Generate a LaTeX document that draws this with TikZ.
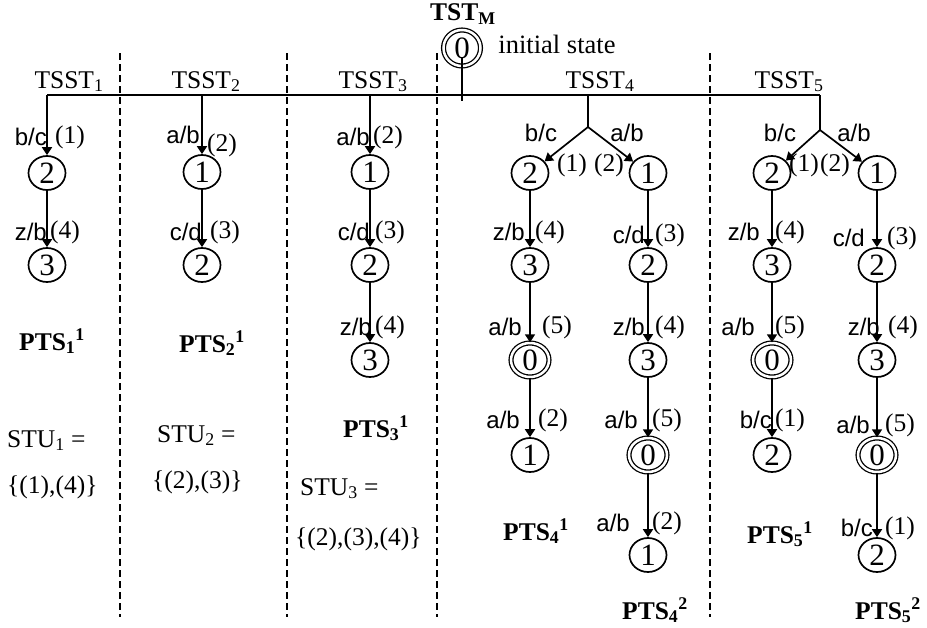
\documentclass[tikz,border=0pt]{standalone}
\usepackage{fontspec}
\setmainfont{Liberation Serif}
\newfontfamily\lsans{Liberation Sans}
\usetikzlibrary{arrows.meta,shapes.geometric}
\newcommand\elab[7]{%
  \node[lb,anchor=east] (#1l) at (#2,#3) {#4};
  \node[pn,anchor=west] (#1r) at (#5,#6) {#7};}
\begin{document}
\begin{tikzpicture}[x=1pt,y=-1pt,
  st/.style={ellipse,draw,line width=1.7pt,minimum width=37pt,minimum height=34pt,inner sep=0pt,font=\fontsize{31}{31}\selectfont},
  acc/.style={st,double,double distance=2.5pt,line width=1.3pt,minimum width=38pt,minimum height=34pt},
  tr/.style={-{Triangle[width=10pt,length=8pt]},line width=1.7pt},
  ln/.style={line width=2pt},
  dl/.style={line width=1.4pt,dash pattern=on 7pt off 4pt},
  lb/.style={font=\lsans\fontsize{24}{24}\selectfont,inner sep=0pt},
  pn/.style={font=\fontsize{25.5}{25.5}\selectfont,inner sep=0pt},
  tx/.style={font=\fontsize{25.5}{28}\selectfont,inner sep=0pt},
  bx/.style={font=\bfseries\fontsize{25.5}{28}\selectfont,inner sep=0pt}]
\useasboundingbox (0,0) rectangle (927,627);

% dashed separators
\foreach \i/\x in {1/120,2/287,3/437,4/710}{
  \coordinate (d\i a) at (\x,53);
  \coordinate (d\i b) at (\x,617);
  \draw[dl] (d\i a) -- (d\i b);
}

% top
\node[bx] (tstm) at (463,14) {TST\textsubscript{M}};
\node[acc,minimum width=37pt,minimum height=36pt] (init) at (462,48) {0};
\node[tx,font=\fontsize{26.5}{28}\selectfont] (inittxt) at (557,44) {initial state};
\coordinate (iL) at (462,101);
\draw[ln] ([yshift=-9pt]init.center) -- (iL);

\coordinate (h1) at (47,95);
\coordinate (h2) at (202,95);
\coordinate (h3) at (370,95);
\coordinate (h4) at (588,95);
\coordinate (h5) at (820,95);
\draw[ln] (h1) -- (h5);

\node[tx,anchor=base] (tsst1) at (69,88) {TSST\textsubscript{1}};
\node[tx,anchor=base] (tsst2) at (206,88) {TSST\textsubscript{2}};
\node[tx,anchor=base] (tsst3) at (373,88) {TSST\textsubscript{3}};
\node[tx,anchor=base] (tsst4) at (600,88) {TSST\textsubscript{4}};
\node[tx,anchor=base] (tsst5) at (789,88) {TSST\textsubscript{5}};

% TSST1
\node[st] (n11) at (47,173) {2};
\node[st] (n12) at (47,265) {3};
\draw[tr] (h1) -- (n11);
\draw[tr] (n11) -- (n12);
\elab{e11}{47}{137}{b/c}{55}{137}{(1)}
\elab{e12}{47}{232}{z/b}{50}{232}{(4)}
\node[bx,anchor=base] (pts1) at (52,350) {PTS\textsubscript{1}\textsuperscript{1}};
\node[tx,anchor=base west] (stu1) at (7,447) {STU\textsubscript{1} =};
\node[tx,anchor=base west] (stu1b) at (7,493) {\{(1),(4)\}};

% TSST2
\node[st] (n21) at (202,172) {1};
\node[st] (n22) at (202,265) {2};
\draw[tr] (h2) -- (n21);
\draw[tr] (n21) -- (n22);
\elab{e21}{200}{135}{a/b}{207}{145}{(2)}
\elab{e22}{202}{232}{c/d}{210}{232}{(3)}
\node[bx,anchor=base] (pts2) at (212,352) {PTS\textsubscript{2}\textsuperscript{1}};
\node[tx,anchor=base west] (stu2) at (157,442) {STU\textsubscript{2} =};
\node[tx,anchor=base west] (stu2b) at (152,488) {\{(2),(3)\}};

% TSST3
\node[st] (n31) at (370,172) {1};
\node[st] (n32) at (370,265) {2};
\node[st] (n33) at (370,360) {3};
\draw[tr] (h3) -- (n31);
\draw[tr] (n31) -- (n32);
\draw[tr] (n32) -- (n33);
\elab{e31}{370}{137}{a/b}{373}{137}{(2)}
\elab{e32}{370}{232}{c/d}{375}{232}{(3)}
\elab{e33}{372}{327}{z/b}{375}{327}{(4)}
\node[bx,anchor=base] (pts3) at (376,437) {PTS\textsubscript{3}\textsuperscript{1}};
\node[tx,anchor=base west] (stu3) at (300,495) {STU\textsubscript{3} =};
\node[tx,anchor=base west] (stu3b) at (295,545) {\{(2),(3),(4)\}};

% TSST4
\coordinate (j4) at (588,127);
\draw[ln] (h4) -- (j4);
\node[st] (n41) at (530,173) {2};
\node[st] (n42) at (530,265) {3};
\node[acc] (n43) at (530,360) {0};
\node[st] (n44) at (530,455) {1};
\node[st] (m41) at (648,173) {1};
\node[st] (m42) at (648,265) {2};
\node[st] (m43) at (648,360) {3};
\node[acc] (m44) at (648,455) {0};
\node[st] (m45) at (648,555) {1};
\draw[tr] (j4) -- (n41);
\draw[tr] (j4) -- (m41);
\draw[tr] (n41) -- (n42);
\draw[tr] (n42) -- (n43);
\draw[tr] (n43) -- (n44);
\draw[tr] (m41) -- (m42);
\draw[tr] (m42) -- (m43);
\draw[tr] (m43) -- (m44);
\draw[tr] (m44) -- (m45);
\node[lb] (e40l) at (541,133) {b/c};
\node[lb] (e40r) at (627,133) {a/b};
\node[pn] (e40a) at (572,165) {(1)};
\node[pn] (e40b) at (609,165) {(2)};
\elab{e41}{525}{232}{z/b}{535}{232}{(4)}
\elab{e42}{522}{327}{a/b}{542}{327}{(5)}
\elab{e43}{520}{420}{a/b}{538}{420}{(2)}
\elab{f41}{645}{235}{c/d}{655}{235}{(3)}
\elab{f42}{645}{327}{z/b}{655}{327}{(4)}
\elab{f43}{638}{420}{a/b}{652}{420}{(5)}
\elab{f44}{630}{523}{a/b}{652}{523}{(2)}
\node[bx,anchor=base] (pts41) at (536,540) {PTS\textsubscript{4}\textsuperscript{1}};
\node[bx,anchor=base] (pts42) at (655,619) {PTS\textsubscript{4}\textsuperscript{2}};

% TSST5
\coordinate (j5) at (820,130);
\draw[ln] (h5) -- (j5);
\node[st] (n51) at (772,173) {2};
\node[st] (n52) at (772,265) {3};
\node[acc] (n53) at (772,360) {0};
\node[st] (n54) at (772,455) {2};
\node[st] (m51) at (877,173) {1};
\node[st] (m52) at (877,265) {2};
\node[st] (m53) at (877,360) {3};
\node[acc] (m54) at (877,455) {0};
\node[st] (m55) at (877,555) {2};
\draw[tr] (j5) -- (n51);
\draw[tr] (j5) -- (m51);
\draw[tr] (n51) -- (n52);
\draw[tr] (n52) -- (n53);
\draw[tr] (n53) -- (n54);
\draw[tr] (m51) -- (m52);
\draw[tr] (m52) -- (m53);
\draw[tr] (m53) -- (m54);
\draw[tr] (m54) -- (m55);
\node[lb] (e50l) at (780,133) {b/c};
\node[lb] (e50r) at (854,133) {a/b};
\node[pn] (e50a) at (804,165) {(1)};
\node[pn] (e50b) at (835,165) {(2)};
\elab{e51}{760}{232}{z/b}{775}{232}{(4)}
\elab{e52}{755}{327}{a/b}{775}{327}{(5)}
\elab{e53}{772}{420}{b/c}{775}{420}{(1)}
\elab{f51}{865}{238}{c/d}{887}{238}{(3)}
\elab{f52}{880}{327}{z/b}{888}{327}{(4)}
\elab{f53}{870}{425}{a/b}{885}{425}{(5)}
\elab{f54}{873}{528}{b/c}{885}{528}{(1)}
\node[bx,anchor=base] (pts51) at (780,543) {PTS\textsubscript{5}\textsuperscript{1}};
\node[bx,anchor=base] (pts52) at (888,619) {PTS\textsubscript{5}\textsuperscript{2}};
\end{tikzpicture}
\end{document}
